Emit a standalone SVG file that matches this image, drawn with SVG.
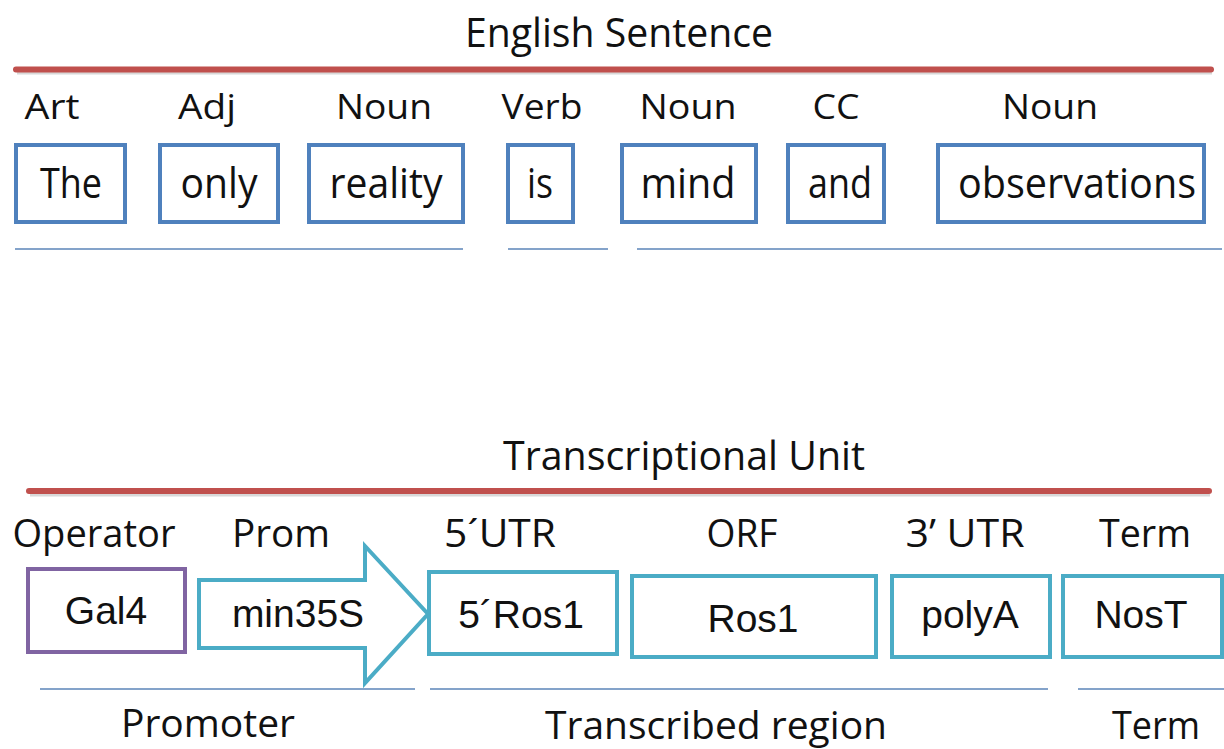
<svg xmlns="http://www.w3.org/2000/svg" width="1224" height="749" viewBox="0 0 1224 749">
<style>
.lbl{font-family:"Open Sans","Noto Sans",sans-serif;fill:#111;text-anchor:middle}
.word{font-family:"Open Sans","Noto Sans",sans-serif;fill:#111;text-anchor:middle;font-size:42px}
.part{font-family:"Liberation Sans",Arial,sans-serif;fill:#111;text-anchor:middle;font-size:39px}
.bbox{fill:#fff;stroke:#4f81bd;stroke-width:4}
.tbox{fill:#fff;stroke:#4bacc6;stroke-width:4}
.pbox{fill:#fff;stroke:#8064a2;stroke-width:4}
.red{stroke:#c0504d;stroke-width:6;stroke-linecap:round}
.shadow{stroke:#d8d8d8;stroke-width:3}
.under{stroke:#5b84b8;stroke-width:1.5}
</style>
<rect width="1224" height="749" fill="#fff"/>

<g id="sentence-title">
<text class="lbl" x="619" y="47" font-size="40" textLength="308" lengthAdjust="spacingAndGlyphs">English Sentence</text>
<line class="shadow" x1="17" y1="73" x2="1212" y2="73"/>
<line class="red" x1="16" y1="69.5" x2="1211" y2="69.5"/>
</g>

<g id="w-the"><text class="lbl" x="52" y="119" font-size="34" textLength="55" lengthAdjust="spacingAndGlyphs">Art</text><rect class="bbox" x="16" y="145" width="109" height="77"/><text class="word" x="71" y="198" textLength="62" lengthAdjust="spacingAndGlyphs">The</text></g>
<g id="w-only"><text class="lbl" x="207" y="119" font-size="34" textLength="58" lengthAdjust="spacingAndGlyphs">Adj</text><rect class="bbox" x="160" y="145" width="118" height="77"/><text class="word" x="219" y="198" textLength="77" lengthAdjust="spacingAndGlyphs">only</text></g>
<g id="w-reality"><text class="lbl" x="384" y="119" font-size="34" textLength="96" lengthAdjust="spacingAndGlyphs">Noun</text><rect class="bbox" x="309" y="145" width="154" height="77"/><text class="word" x="386" y="198" textLength="113" lengthAdjust="spacingAndGlyphs">reality</text></g>
<g id="w-is"><text class="lbl" x="542" y="119" font-size="34" textLength="81" lengthAdjust="spacingAndGlyphs">Verb</text><rect class="bbox" x="508" y="145" width="65" height="77"/><text class="word" x="540" y="198" textLength="26" lengthAdjust="spacingAndGlyphs">is</text></g>
<g id="w-mind"><text class="lbl" x="688" y="119" font-size="34" textLength="97" lengthAdjust="spacingAndGlyphs">Noun</text><rect class="bbox" x="622" y="145" width="134" height="77"/><text class="word" x="688" y="198" textLength="95" lengthAdjust="spacingAndGlyphs">mind</text></g>
<g id="w-and"><text class="lbl" x="836" y="119" font-size="34" textLength="47" lengthAdjust="spacingAndGlyphs">CC</text><rect class="bbox" x="788" y="145" width="96" height="77"/><text class="word" x="840" y="198" textLength="64" lengthAdjust="spacingAndGlyphs">and</text></g>
<g id="w-observations"><text class="lbl" x="1050" y="119" font-size="34" textLength="96" lengthAdjust="spacingAndGlyphs">Noun</text><rect class="bbox" x="938" y="145" width="266" height="77"/><text class="word" x="1077" y="198" textLength="238" lengthAdjust="spacingAndGlyphs">observations</text></g>

<g id="sentence-underlines">
<line class="under" x1="15" y1="249" x2="463" y2="249"/>
<line class="under" x1="508" y1="249" x2="608" y2="249"/>
<line class="under" x1="637" y1="249" x2="1222" y2="249"/>
</g>

<g id="unit-title">
<text class="lbl" x="684" y="470" font-size="40" textLength="362" lengthAdjust="spacingAndGlyphs">Transcriptional Unit</text>
<line class="shadow" x1="30" y1="495" x2="1210" y2="495"/>
<line class="red" x1="29" y1="491" x2="1209" y2="491"/>
</g>

<g id="p-gal4"><text class="lbl" x="94" y="547" font-size="38" textLength="163" lengthAdjust="spacingAndGlyphs">Operator</text><rect class="pbox" x="28" y="569" width="157" height="83"/><text class="part" x="106" y="624">Gal4</text></g>
<g id="p-min35s"><text class="lbl" x="281" y="547" font-size="38" textLength="98" lengthAdjust="spacingAndGlyphs">Prom</text><path class="tbox" d="M199,580 L365,580 L365,546 L428,614 L365,683 L365,648 L199,648 Z" stroke-linejoin="miter"/><text class="part" x="298" y="627">min35S</text></g>
<g id="p-5ros1"><text class="lbl" x="500" y="547" font-size="38" textLength="112" lengthAdjust="spacingAndGlyphs">5´UTR</text><rect class="tbox" x="429" y="572" width="188" height="82"/><text class="part" x="521" y="628">5´Ros1</text></g>
<g id="p-ros1"><text class="lbl" x="742" y="547" font-size="38" textLength="71" lengthAdjust="spacingAndGlyphs">ORF</text><rect class="tbox" x="632" y="576" width="244" height="81"/><text class="part" x="753" y="632">Ros1</text></g>
<g id="p-polya"><text class="lbl" x="965" y="547" font-size="38" textLength="119" lengthAdjust="spacingAndGlyphs">3’ UTR</text><rect class="tbox" x="892" y="576" width="158" height="81"/><text class="part" x="970" y="628">polyA</text></g>
<g id="p-nost"><text class="lbl" x="1145" y="547" font-size="38" textLength="92" lengthAdjust="spacingAndGlyphs">Term</text><rect class="tbox" x="1063" y="576" width="159" height="81"/><text class="part" x="1141" y="628">NosT</text></g>

<g id="unit-underlines">
<line class="under" x1="40" y1="689" x2="415" y2="689"/>
<line class="under" x1="430" y1="689" x2="1048" y2="689"/>
<line class="under" x1="1078" y1="689" x2="1224" y2="689"/>
</g>

<g id="region-labels">
<text class="lbl" x="208" y="737" font-size="38" textLength="174" lengthAdjust="spacingAndGlyphs">Promoter</text>
<text class="lbl" x="716" y="739" font-size="38" textLength="342" lengthAdjust="spacingAndGlyphs">Transcribed region</text>
<text class="lbl" x="1156" y="739" font-size="38" textLength="88" lengthAdjust="spacingAndGlyphs">Term</text>
</g>
</svg>
